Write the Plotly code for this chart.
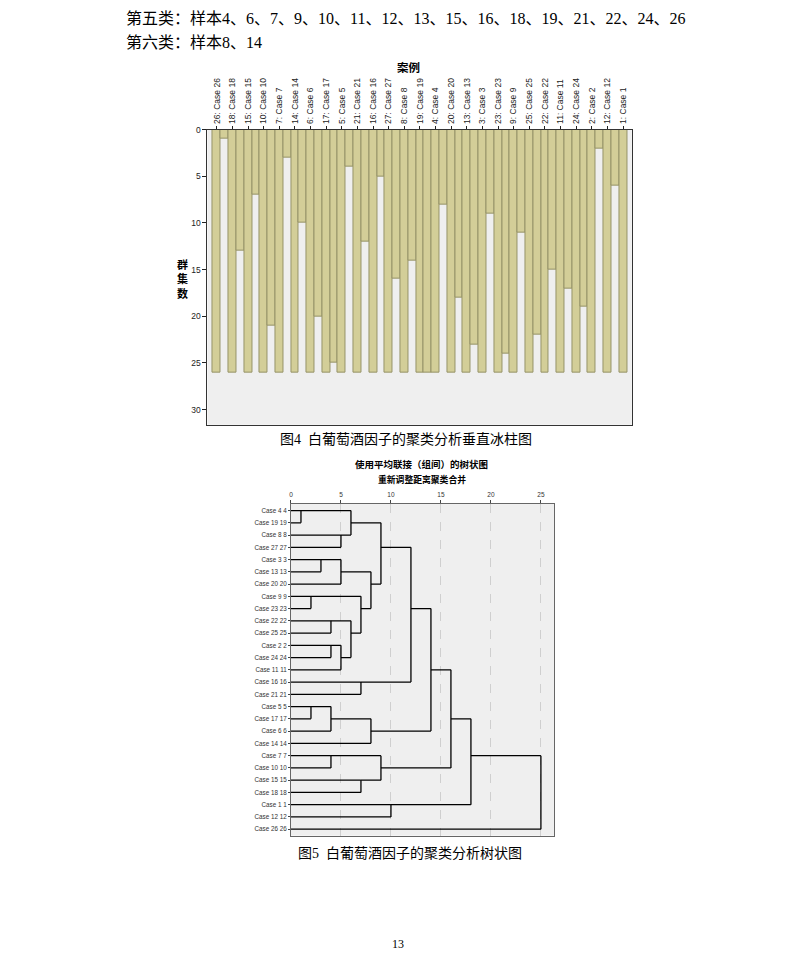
import math
import plotly.graph_objects as go

W, H = 793, 956

# ---------------- data ----------------
# Vertical icicle (order of cases from left to right)
icicle_cases = [26, 18, 15, 10, 7, 14, 6, 17, 5, 21, 16, 27, 8, 19, 4, 20, 13, 3, 23, 9, 25, 22, 11, 24, 2, 12, 1]
case_depth = 26
# depth of the filled gap column between consecutive cases
gap_depths = [1, 13, 7, 21, 3, 10, 20, 25, 4, 12, 5, 16, 14, 26, 8, 18, 23, 9, 24, 11, 22, 15, 17, 19, 2, 6]
icicle_yticks = [0, 5, 10, 15, 20, 25, 30]

# Dendrogram (average linkage, rescaled distance)
dendro_order = [4, 19, 8, 27, 3, 13, 20, 9, 23, 22, 25, 2, 24, 11, 16, 21, 5, 17, 6, 14, 7, 10, 15, 18, 1, 12, 26]
merge_a = [4, 9, 5, 3, 22, 2, 5, 7, 8, 3, 2, 4, 22, 9, 16, 15, 3, 5, 4, 7, 1, 4, 4, 4, 4, 4]
merge_b = [19, 23, 17, 13, 25, 24, 6, 10, 27, 20, 11, 8, 2, 22, 21, 18, 9, 14, 3, 15, 12, 16, 5, 7, 1, 26]
merge_dist = [1, 2, 2, 3, 4, 4, 4, 4, 5, 5, 5, 6, 6, 7, 7, 7, 8, 8, 9, 9, 10, 12, 14, 16, 18, 25]
dendro_xticks = [0, 5, 10, 15, 20, 25]

top_line1 = "第五类：样本4、6、7、9、10、11、12、13、15、16、18、19、21、22、24、26"
top_line2 = "第六类：样本8、14"
cap4 = "图4  白葡萄酒因子的聚类分析垂直冰柱图"
cap5 = "图5  白葡萄酒因子的聚类分析树状图"
dendro_title = "使用平均联接（组间）的树状图"
dendro_sub = "重新调整距离聚类合并"
page_no = "13"


def px(x, y):
    return x / W, 1 - y / H


# ---------------- icicle columns ----------------
ice_x, ice_v = [], []
for i, c in enumerate(icicle_cases):
    ice_x.append(2 * i)
    ice_v.append(case_depth)
    if i < len(gap_depths):
        ice_x.append(2 * i + 1)
        ice_v.append(gap_depths[i])

fig = go.Figure()
fig.add_trace(go.Bar(
    x=ice_x, y=ice_v, width=1,
    marker=dict(color="rgb(211,206,152)", line=dict(color="rgb(150,147,105)", width=1)),
    xaxis="x", yaxis="y", hoverinfo="skip", showlegend=False,
))

# ---------------- dendrogram segments ----------------
row_of = {c: i for i, c in enumerate(dendro_order)}
cluster_of = {c: c for c in dendro_order}
node = {c: (0.0, float(row_of[c])) for c in dendro_order}
seg_x, seg_y = [], []
next_id = 1000
for a, b, d in zip(merge_a, merge_b, merge_dist):
    ca, cb = cluster_of[a], cluster_of[b]
    xa, ya = node[ca]
    xb, yb = node[cb]
    seg_x += [xa, d, None, xb, d, None, d, d, None]
    seg_y += [ya, ya, None, yb, yb, None, ya, yb, None]
    nid = next_id
    next_id += 1
    node[nid] = (float(d), float(math.floor((ya + yb) / 2)))
    for k, v in list(cluster_of.items()):
        if v in (ca, cb):
            cluster_of[k] = nid

fig.add_trace(go.Scatter(
    x=seg_x, y=seg_y, mode="lines",
    line=dict(color="black", width=1.3),
    xaxis="x2", yaxis="y2", hoverinfo="skip", showlegend=False,
))

# ---------------- layout ----------------
ax_font = dict(family="Liberation Sans, Arial", size=8.5, color="#222")
cjk = "Liberation Serif, Noto Sans CJK SC"

x0, y1 = px(206, 422)
x1, y0 = px(631.3, 125.3)
dx0, dy1 = px(289.7, 835)
dx1, dy0 = px(553.3, 501.7)

annotations = []


def ann(text, x, y, size, xanchor="center", bold=False, family=cjk, color="black"):
    ax, ay = px(x, y)
    t = f"<b>{text}</b>" if bold else text
    annotations.append(dict(text=t, x=ax, y=ay, xref="paper", yref="paper",
                            xanchor=xanchor, yanchor="middle", showarrow=False,
                            borderpad=0, borderwidth=0,
                            font=dict(family=family, size=size, color=color)))


ann(top_line1, 124, 14, 16, xanchor="left")
ann(top_line2, 124, 38, 16, xanchor="left")
ann("案例", 408, 62, 11.5, bold=True, family="Noto Sans CJK SC")
ann("群<br>集<br>数", 181, 275, 11, bold=True, family="Noto Sans CJK SC")
ann(cap4, 405, 436, 14)
ann(dendro_title, 421, 461, 9.5, bold=True, family="Noto Sans CJK SC")
ann(dendro_sub, 421, 477, 8.8, bold=True, family="Noto Sans CJK SC")
ann(cap5, 409, 853, 14)
ann(page_no, 397, 944, 12)

fig.update_layout(
    width=W, height=H,
    margin=dict(l=0, r=0, t=0, b=0),
    paper_bgcolor="white",
    plot_bgcolor="#efefef",
    bargap=0,
    showlegend=False,
    annotations=annotations,
    xaxis=dict(
        domain=[x0, x1], range=[-1.2, 53.1], anchor="y", side="top",
        tickmode="array", tickvals=[2 * i for i in range(len(icicle_cases))],
        ticktext=[f"{c}: Case {c}" for c in icicle_cases],
        tickangle=-90, ticks="outside", ticklen=3, tickcolor="#222",
        tickfont=ax_font, showgrid=False, zeroline=False,
        showline=True, mirror=True, linecolor="#333", linewidth=1,
    ),
    yaxis=dict(
        domain=[y1, y0], range=[31.63, 0], anchor="x",
        tickmode="array", tickvals=icicle_yticks,
        ticks="outside", ticklen=4, tickcolor="#222",
        tickfont=ax_font, showgrid=False, zeroline=False,
        showline=True, mirror=True, linecolor="#333", linewidth=1,
    ),
    xaxis2=dict(
        domain=[dx0, dx1], range=[0, 26.3], anchor="y2", side="top",
        tickmode="array", tickvals=dendro_xticks,
        ticks="outside", ticklen=3, tickcolor="#444",
        tickfont=dict(family="Liberation Sans, Arial", size=6.5, color="#333"),
        showgrid=True, gridcolor="#cfcfcf", griddash="dash", gridwidth=1,
        zeroline=False, showline=True, mirror=True, linecolor="#666", linewidth=1,
    ),
    yaxis2=dict(
        domain=[dy1, dy0], range=[26.53, -0.53], anchor="x2",
        tickmode="array", tickvals=list(range(len(dendro_order))),
        ticktext=[f"Case {c} {c}" for c in dendro_order],
        ticks="outside", ticklen=2, tickcolor="#444",
        tickfont=dict(family="Liberation Sans, Arial", size=6.3, color="#333"),
        showgrid=False, zeroline=False,
        showline=True, mirror=True, linecolor="#666", linewidth=1,
    ),
)

fig.write_html(
    "out.html",
    config={"displayModeBar": False},
    post_script="document.body.style.margin='0';document.body.style.overflow='hidden';",
)
